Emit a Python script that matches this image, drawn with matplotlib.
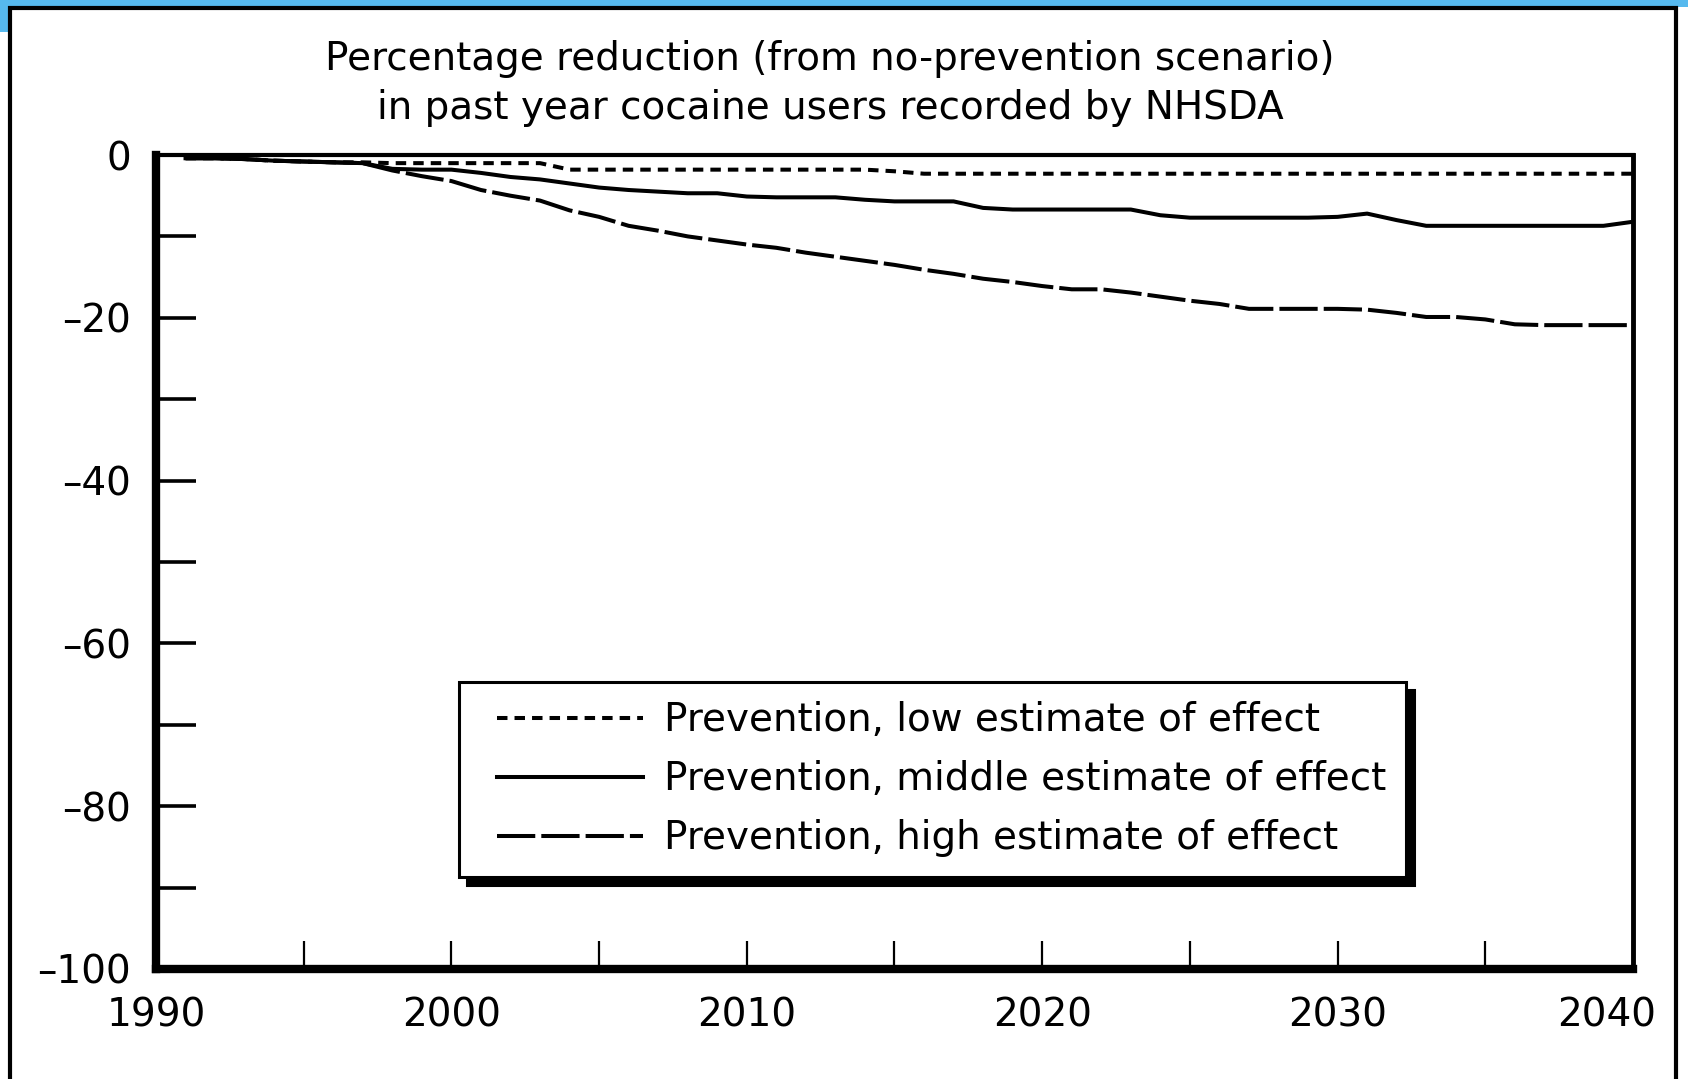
import numpy as np
import matplotlib
matplotlib.use("Agg")
from matplotlib import pyplot
from matplotlib.patches import Rectangle
from matplotlib.ticker import MultipleLocator, FuncFormatter
from matplotlib.legend_handler import HandlerLine2D
from matplotlib.transforms import ScaledTranslation

# yearly values (percent change vs no-prevention)
YEARS = list(range(1991, 2041))
LOW = [-0.4, -0.4, -0.5, -0.7, -0.8, -0.9, -0.9, -1.0, -1.0, -1.0,
       -1.0, -1.0, -1.0, -1.8, -1.8, -1.8, -1.8, -1.8, -1.8, -1.8,
       -1.8, -1.8, -1.8, -1.8, -2.0, -2.3, -2.3, -2.3, -2.3, -2.3,
       -2.3, -2.3, -2.3, -2.3, -2.3, -2.3, -2.3, -2.3, -2.3, -2.3,
       -2.3, -2.3, -2.3, -2.3, -2.3, -2.3, -2.3, -2.3, -2.3, -2.3]
MIDDLE = [-0.4, -0.4, -0.5, -0.7, -0.8, -0.9, -1.0, -1.7, -1.8, -1.8,
          -2.2, -2.7, -3.0, -3.5, -4.0, -4.3, -4.5, -4.7, -4.7, -5.1,
          -5.2, -5.2, -5.2, -5.5, -5.7, -5.7, -5.7, -6.5, -6.7, -6.7,
          -6.7, -6.7, -6.7, -7.4, -7.7, -7.7, -7.7, -7.7, -7.7, -7.6,
          -7.2, -8.0, -8.7, -8.7, -8.7, -8.7, -8.7, -8.7, -8.7, -8.2]
HIGH = [-0.4, -0.4, -0.5, -0.7, -0.8, -0.9, -1.0, -1.9, -2.6, -3.2,
        -4.3, -5.0, -5.6, -6.8, -7.6, -8.7, -9.3, -10.0, -10.5, -11.0,
        -11.4, -12.0, -12.5, -13.0, -13.5, -14.1, -14.6, -15.2, -15.6, -16.1,
        -16.5, -16.5, -16.9, -17.4, -17.9, -18.3, -18.9, -18.9, -18.9, -18.9,
        -19.0, -19.4, -19.9, -19.9, -20.2, -20.8, -20.9, -20.9, -20.9, -20.9]
X_TICKS = [1990, 2000, 2010, 2020, 2030, 2040]
Y_TICKS = [0, -20, -40, -60, -80, -100]
LABELS = ["Prevention, low estimate of effect",
          "Prevention, middle estimate of effect",
          "Prevention, high estimate of effect"]
TITLE_LINES = ["Percentage reduction (from no-prevention scenario)",
               "in past year cocaine users recorded by NHSDA"]

FS = 28
LW = 2.9

fig = pyplot.figure(figsize=(16.88, 10.79), dpi=100)

# blue strip and black frame of the screenshot
W, H = 1688, 1079
fig.add_artist(Rectangle((0, 1 - 7 / H), 1, 7 / H, transform=fig.transFigure,
                         facecolor="#56b9ee", edgecolor="none"))
fig.add_artist(Rectangle((0, 1 - 32 / H), 8 / W, 32 / H, transform=fig.transFigure,
                         facecolor="#56b9ee", edgecolor="none"))
fig.add_artist(Rectangle((10 / W, -0.05), 1676 / W - 10 / W, 1.05 - 8 / H,
                         transform=fig.transFigure, facecolor="none",
                         edgecolor="black", linewidth=3))

ax = fig.add_axes([156 / W, 1 - 969 / H, (1633 - 156) / W, (969 - 155) / H])
ax.plot(YEARS, LOW, color="black", lw=LW, dashes=[2.6, 1.75], label=LABELS[0])
ax.plot(YEARS, MIDDLE, color="black", lw=LW, label=LABELS[1])
ax.plot(YEARS, HIGH, color="black", lw=LW, dashes=[9.5, 1.5], label=LABELS[2])

ax.set_xlim(1990, 2040)
ax.set_ylim(-100, 0)
ax.set_xticks(X_TICKS)
ax.set_yticks(Y_TICKS)
ax.xaxis.set_minor_locator(MultipleLocator(5))
ax.yaxis.set_minor_locator(MultipleLocator(10))
ax.yaxis.set_major_formatter(FuncFormatter(
    lambda v, pos: f"\u2013{abs(v):.0f}" if v < 0 else f"{v:.0f}"))
ax.tick_params(axis="x", which="both", direction="in", length=20, width=1.6,
               labelsize=FS, pad=20)
ax.tick_params(axis="y", which="both", direction="in", length=28.5, width=2.6,
               labelsize=FS, pad=18)
ax.spines["left"].set_linewidth(6)
ax.spines["bottom"].set_linewidth(6)
ax.spines["top"].set_linewidth(3)
ax.spines["right"].set_linewidth(3.5)

# last year label sits pulled in to the left, as in the original
last_tick = ax.xaxis.get_major_ticks()[-1]
last_tick.label1.set_transform(last_tick.label1.get_transform()
                               + ScaledTranslation(-0.26, 0, fig.dpi_scale_trans))

for text, ypix in zip(TITLE_LINES, (59, 108)):
    fig.text(830 / W, 1 - ypix / H, text, ha="center", va="center", fontsize=FS)

leg = ax.legend(loc="upper left", bbox_to_anchor=(459 / W, 1 - 682 / H),
                bbox_transform=fig.transFigure, fontsize=FS, frameon=True,
                fancybox=False, edgecolor="black", framealpha=1,
                borderpad=0.5, handlelength=4.7, handletextpad=0.07,
                labelspacing=0.54, borderaxespad=0,
                handler_map={matplotlib.lines.Line2D:
                             HandlerLine2D(numpoints=2, marker_pad=0.47)},
                shadow={"ox": 6, "oy": -6, "facecolor": "black",
                        "edgecolor": "black", "alpha": 1})
leg.get_frame().set_linewidth(2.2)

fig.savefig("out.png", dpi=100)
